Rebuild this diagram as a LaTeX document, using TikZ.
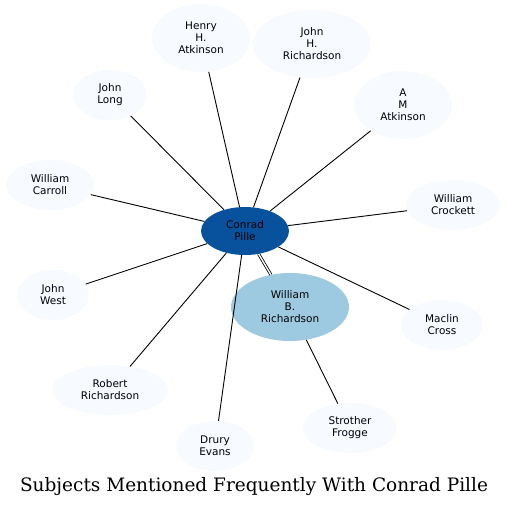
\documentclass[tikz,border=0pt]{standalone}
\usepackage{fontspec}
\setsansfont{DejaVu Sans}
\newfontfamily\titlefont{DejaVu Serif}
\usetikzlibrary{shapes.geometric}
\definecolor{leaf}{HTML}{F7FBFF}
\definecolor{hub}{HTML}{08519C}
\definecolor{mid}{HTML}{9ECAE1}

\begin{document}
\begin{tikzpicture}[x=1pt,y=-1pt,
  person/.style={ellipse,fill=leaf,inner sep=0pt,align=center,
    font=\sffamily\fontsize{10.5}{12}\selectfont},
  link/.style={line width=0.9pt}]
\useasboundingbox (0,0) rectangle (508,507);
% centre
\node[person,fill=hub,minimum width=88,minimum height=48] (conrad) at (245,231) {Conrad\\Pille};
\node[person,fill=mid,minimum width=118,minimum height=68] (wbr) at (290,307) {William\\B.\\Richardson};
% others
\node[person,minimum width=98,minimum height=68] (hha) at (201,38) {Henry\\H.\\Atkinson};
\node[person,minimum width=118,minimum height=68] (jhr) at (312,44) {John\\H.\\Richardson};
\node[person,minimum width=98,minimum height=68] (ama) at (403,105) {A\\M\\Atkinson};
\node[person,minimum width=74,minimum height=50] (jl) at (110,95) {John\\Long};
\node[person,minimum width=88,minimum height=50] (wca) at (50,185) {William\\Carroll};
\node[person,minimum width=94,minimum height=50] (wcr) at (453,205) {William\\Crockett};
\node[person,minimum width=72,minimum height=50] (jw) at (53,295) {John\\West};
\node[person,minimum width=82,minimum height=50] (mc) at (442,325) {Maclin\\Cross};
\node[person,minimum width=116,minimum height=50] (rr) at (110,390) {Robert\\Richardson};
\node[person,minimum width=78,minimum height=50] (de) at (215,446) {Drury\\Evans};
\node[person,minimum width=94,minimum height=50] (sf) at (350,428) {Strother\\Frogge};

\draw[link] (conrad) -- (hha);
\draw[link] (conrad) -- (jhr);
\draw[link] (conrad) -- (ama);
\draw[link] (conrad) -- (jl);
\draw[link] (conrad) -- (wca);
\draw[link] (conrad) -- (wcr);
\draw[link] (conrad) -- (jw);
\draw[link] (conrad) -- (mc);
\draw[link] (conrad) -- (rr);
\draw[link] (conrad) -- (de);
\draw[link,double,double distance=1.4pt,line width=0.8pt] (conrad) -- (wbr);
\draw[link] (wbr) -- (sf);

\node[font=\titlefont\fontsize{18.5}{22}\selectfont] (title) at (254,487) {Subjects Mentioned Frequently With Conrad Pille};
\end{tikzpicture}
\end{document}
